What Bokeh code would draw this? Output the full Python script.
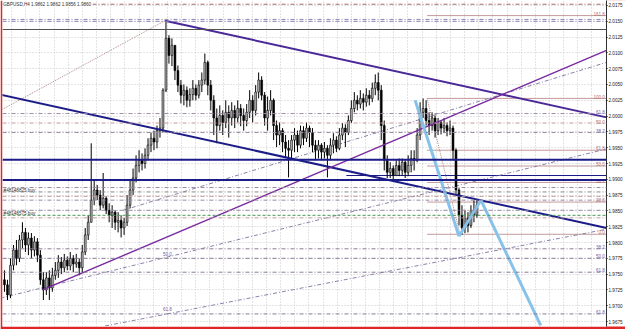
from bokeh.plotting import figure
from bokeh.models import Range1d, FixedTicker, Label, ColumnDataSource, Span, Grid, PrintfTickFormatter
from bokeh.core.properties import value
from bokeh.embed import file_html
from bokeh.resources import INLINE

FONT = "Liberation Sans"

header = "GBPUSD,H4  1.9862 1.9862 1.9856 1.9860"

# ---- H4 bars (one value per bar) ----
first_open = 1.9741
closes = [1.9733, 1.9717, 1.9764, 1.9788, 1.9775, 1.9804, 1.9816, 1.9796, 1.9807, 1.9788,
          1.9801, 1.9780, 1.9741, 1.9725, 1.9744, 1.9728, 1.9748, 1.9756, 1.9769, 1.9760,
          1.9772, 1.9763, 1.9775, 1.9766, 1.9769, 1.9760, 1.9785, 1.9812, 1.9832, 1.9867,
          1.9883, 1.9875, 1.9859, 1.9870, 1.9851, 1.9843, 1.9848, 1.9832, 1.9835, 1.9823,
          1.9832, 1.9859, 1.9883, 1.9902, 1.9922, 1.9930, 1.9925, 1.9938, 1.9954, 1.9965,
          1.9959, 1.9977, 1.9981, 2.0041, 2.0123, 2.0096, 2.0112, 2.0072, 2.0049, 2.0033,
          2.0041, 2.0025, 2.0034, 2.0044, 2.0033, 2.0049, 2.0057, 2.0085, 2.0049, 2.0025,
          1.9997, 1.9985, 2.0001, 1.9990, 2.0006, 1.9997, 2.0009, 1.9997, 2.0012, 2.0001,
          1.9993, 2.0006, 2.0025, 2.0009, 2.0038, 2.0057, 2.0033, 1.9997, 2.0009, 2.0025,
          1.9985, 1.9970, 1.9977, 1.9959, 1.9949, 1.9946, 1.9962, 1.9970, 1.9954, 1.9977,
          1.9965, 1.9981, 1.9974, 1.9954, 1.9946, 1.9954, 1.9943, 1.9949, 1.9938, 1.9954,
          1.9962, 1.9949, 1.9970, 1.9981, 1.9974, 1.9993, 2.0012, 2.0025, 2.0019, 2.0028,
          2.0022, 2.0033, 2.0028, 2.0044, 2.0053, 2.0041, 1.9985, 1.9930, 1.9911, 1.9917,
          1.9906, 1.9922, 1.9914, 1.9927, 1.9911, 1.9922, 1.9933, 1.9930, 1.9970, 2.0006,
          2.0012, 1.9993, 1.9985, 1.9997, 1.9977, 1.9990, 1.9981, 1.9985, 1.9977, 1.9981,
          1.9946, 1.9883, 1.9843, 1.9823, 1.9839, 1.9827, 1.9851, 1.9843, 1.9860]
highs = [1.9756, 1.9741, 1.9775, 1.9796, 1.9804, 1.9812, 1.9832, 1.9823, 1.9816, 1.9815,
         1.9810, 1.9807, 1.9788, 1.9753, 1.9753, 1.9756, 1.9760, 1.9769, 1.9780, 1.9777,
         1.9782, 1.9778, 1.9785, 1.9780, 1.9782, 1.9775, 1.9796, 1.9823, 1.9843, 1.9957,
         1.9899, 1.9891, 1.9883, 1.9910, 1.9873, 1.9862, 1.9859, 1.9851, 1.9848, 1.9843,
         1.9839, 1.9875, 1.9899, 1.9917, 1.9938, 1.9946, 1.9941, 1.9949, 1.9965, 1.9974,
         1.9977, 1.9985, 1.9997, 2.0044, 2.0150, 2.0128, 2.0123, 2.0107, 2.0080, 2.0057,
         2.0050, 2.0047, 2.0044, 2.0057, 2.0050, 2.0057, 2.0069, 2.0099, 2.0088, 2.0057,
         2.0033, 2.0012, 2.0017, 2.0009, 2.0025, 2.0017, 2.0022, 2.0017, 2.0025, 2.0019,
         2.0012, 2.0019, 2.0041, 2.0033, 2.0049, 2.0069, 2.0063, 2.0038, 2.0031, 2.0041,
         2.0028, 1.9993, 1.9990, 1.9981, 1.9970, 1.9962, 1.9970, 1.9981, 1.9977, 1.9985,
         1.9984, 1.9990, 1.9985, 1.9981, 1.9962, 1.9962, 1.9957, 1.9959, 1.9954, 1.9965,
         1.9973, 1.9968, 1.9981, 1.9989, 1.9987, 2.0001, 2.0025, 2.0038, 2.0033, 2.0041,
         2.0036, 2.0044, 2.0041, 2.0053, 2.0066, 2.0069, 2.0049, 1.9993, 1.9938, 1.9927,
         1.9922, 1.9930, 1.9933, 1.9933, 1.9930, 1.9938, 1.9946, 1.9946, 1.9981, 2.0022,
         2.0028, 2.0025, 2.0006, 2.0006, 2.0001, 1.9997, 1.9993, 1.9997, 1.9990, 1.9993,
         1.9985, 1.9949, 1.9886, 1.9859, 1.9851, 1.9848, 1.9859, 1.9867, 1.9867]
lows = [1.9722, 1.9709, 1.9712, 1.9756, 1.9764, 1.9769, 1.9791, 1.9785, 1.9780, 1.9775,
        1.9778, 1.9769, 1.9733, 1.9709, 1.9717, 1.9709, 1.9722, 1.9741, 1.9744, 1.9750,
        1.9753, 1.9756, 1.9756, 1.9753, 1.9760, 1.9748, 1.9753, 1.9780, 1.9804, 1.9832,
        1.9859, 1.9867, 1.9851, 1.9854, 1.9845, 1.9832, 1.9823, 1.9820, 1.9816, 1.9808,
        1.9812, 1.9826, 1.9854, 1.9875, 1.9895, 1.9911, 1.9914, 1.9917, 1.9930, 1.9943,
        1.9946, 1.9949, 1.9966, 1.9974, 2.0038, 2.0083, 2.0079, 2.0057, 2.0038, 2.0020,
        2.0017, 2.0014, 2.0015, 2.0025, 2.0025, 2.0028, 2.0038, 2.0050, 2.0033, 2.0009,
        1.9970, 1.9957, 1.9977, 1.9970, 1.9981, 1.9966, 1.9985, 1.9981, 1.9990, 1.9984,
        1.9977, 1.9984, 1.9997, 1.9990, 2.0001, 2.0028, 2.0025, 1.9985, 1.9977, 2.0001,
        1.9962, 1.9951, 1.9954, 1.9943, 1.9935, 1.9903, 1.9933, 1.9943, 1.9943, 1.9949,
        1.9954, 1.9959, 1.9951, 1.9943, 1.9930, 1.9933, 1.9930, 1.9933, 1.9903, 1.9930,
        1.9941, 1.9943, 1.9946, 1.9962, 1.9951, 1.9970, 1.9989, 2.0006, 2.0009, 2.0012,
        2.0009, 2.0015, 2.0017, 2.0022, 2.0033, 2.0025, 1.9962, 1.9914, 1.9902, 1.9902,
        1.9899, 1.9905, 1.9905, 1.9906, 1.9902, 1.9905, 1.9911, 1.9914, 1.9927, 1.9962,
        1.9997, 1.9985, 1.9970, 1.9977, 1.9966, 1.9970, 1.9971, 1.9973, 1.9968, 1.9970,
        1.9930, 1.9875, 1.9827, 1.9812, 1.9815, 1.9816, 1.9823, 1.9832, 1.9839]

price_ticks = [1.9675, 1.9700, 1.9725, 1.9750, 1.9775, 1.9800, 1.9825, 1.9850, 1.9875,
               1.9900, 1.9925, 1.9950, 1.9975, 2.0000, 2.0025, 2.0050, 2.0075, 2.0100,
               2.0125, 2.0150, 2.0175]

# ---- trend lines (bar index, price) ----
solid_x0 = [-1.33, 53.67, 12.67, 137.33, 152.0, 159.33]
solid_p0 = [2.0034, 2.0151, 1.9725, 2.0025, 1.9810, 1.9867]
solid_x1 = [201.33, 201.33, 201.33, 152.0, 159.33, 179.33]
solid_p1 = [1.9823, 1.9998, 2.0104, 1.9810, 1.9867, 1.9669]
solid_col = ["#1c1c88", "#4a2898", "#7a2aa0", "#86c2ea", "#86c2ea", "#86c2ea"]
solid_w = [2.0, 2.0, 1.4, 3.0, 3.0, 3.0]

dotted_x0 = [-1.33, 141.33]
dotted_p0 = [2.0009, 2.0028]
dotted_x1 = [53.67, 152.33]
dotted_p1 = [2.0151, 1.9813]

dashdot_x0 = [-1.33, 39.67, 33.67]
dashdot_p0 = [1.9712, 1.9851, 1.9668]
dashdot_x1 = [201.33, 201.33, 201.33]
dashdot_p1 = [1.9948, 2.0085, 1.9821]

# ---- horizontal levels ----
level_full = [2.0177, 2.0153, 2.0150, 2.0004, 1.9989, 1.9974, 1.9887, 1.9880, 1.9873,
              1.9867, 1.9851, 1.9839, 1.9790, 1.9775, 1.9753, 1.9687]
level_full_col = ["#a86a6a", "#8c82b4", "#8c82b4", "#9a8aa8", "#c49a9a", "#9a8aa8",
                  "#9a8aa8", "#8a8a8a", "#c49a9a", "#9a8aa8", "#9a8aa8", "#c49a9a",
                  "#8a7a9a", "#8a7a9a", "#8a7a9a", "#8a7a9a"]
fib_levels = [2.0159, 2.0028, 1.9946, 1.9921, 1.9895, 1.9864, 1.9813]
fib_start = 141.33
navy_full = [1.9931, 1.9899]
navy_part = [1.9906]
navy_part_start = 114.33
gray_line = 2.0137
order_line = 1.9843

# ---- labels ----
fib_text = ["161.8", "100.0", "61.8", "50.0", "38.2", "61.8", "50.0", "38.2", "23.6",
            "0.0", "38.2", "50.0", "61.8", "61.8"]
fib_text_p = [2.0162, 2.0031, 2.0006, 1.9990, 1.9976, 1.9949, 1.9925, 1.9897, 1.9867,
              1.9816, 1.9793, 1.9778, 1.9757, 1.9690]
fib_text_col = ["#b07070", "#b07070", "#7060a8", "#b07070", "#7060a8", "#b07070",
                "#b07070", "#b07070", "#b07070", "#b07070", "#7060a8", "#7060a8",
                "#7060a8", "#7060a8"]
mid_text = ["50.0", "61.8"]
mid_text_x = [53.0, 53.0]
mid_text_p = [1.9782, 1.9694]
order_text = ["#48148825 buy", "#48148575 buy"]
order_text_p = [1.9882, 1.9846]
axis_box_text = ["2.0137", "1.9932", "1.9906", "1.9899", "1.9860", "1.9843"]
axis_box_p = [2.0137, 1.9931, 1.9906, 1.9899, 1.9860, 1.9843]
axis_box_col = ["#000000", "#1c1c88", "#1c1c88", "#1c1c88", "#000000", "#2e8b57"]

bars = list(range(len(closes)))
opens = [first_open] + closes[:-1]
body_col = ["#b8b8b8" if c >= o else "#000000" for o, c in zip(opens, closes)]
src = ColumnDataSource(dict(x=bars, o=opens, c=closes, h=highs, l=lows, col=body_col))

p = figure(width=625, height=329, output_backend="svg", toolbar_location=None,
           x_range=Range1d(-0.667, 201.333), y_range=Range1d(1.96671, 2.01829),
           x_axis_location=None, y_axis_location="right",
           min_border_left=2, min_border_right=17, min_border_top=0, min_border_bottom=3,
           background_fill_color="white", border_fill_color="#e02626",
           outline_line_color=None)

ax = p.yaxis[0]
ax.ticker = FixedTicker(ticks=price_ticks)
ax.formatter = PrintfTickFormatter(format="%.4f")
ax.major_label_text_font = FONT
ax.major_label_text_font_size = "4.6px"
ax.major_label_text_color = "#202020"
ax.major_label_standoff = 1
ax.major_tick_in = 0
ax.major_tick_out = 1
ax.minor_tick_line_color = None
ax.axis_line_color = "#303030"
if "background_fill_color" in ax.properties():
    ax.background_fill_color = "white"

p.ygrid.ticker = FixedTicker(ticks=price_ticks)
p.ygrid.grid_line_color = "#c8c8c8"
p.ygrid.grid_line_dash = "1 2"
p.xgrid.visible = False
vgrid = [(210 + 14.2 * k - 4) / 3 for k in range(-15, 29)]
p.add_layout(Grid(dimension=0, ticker=FixedTicker(ticks=vgrid),
                  grid_line_color="#c8c8c8", grid_line_dash="1 2"))

# horizontal levels
for lv, col in zip(level_full, level_full_col):
    p.add_layout(Span(location=lv, dimension="width", line_color=col,
                      line_width=1, line_dash="4 2 1 2"))
p.add_layout(Span(location=gray_line, dimension="width", line_color="#505050", line_width=1))
p.add_layout(Span(location=order_line, dimension="width", line_color="#4a9a5a",
                  line_width=1, line_dash="3 2"))
for lv in navy_full:
    p.add_layout(Span(location=lv, dimension="width", line_color="#1c1c88", line_width=2))
p.segment(x0=[navy_part_start] * len(navy_part), y0=navy_part,
          x1=[201.33] * len(navy_part), y1=navy_part, line_color="#1c1c88", line_width=1)
p.segment(x0=[fib_start] * len(fib_levels), y0=fib_levels,
          x1=[201.33] * len(fib_levels), y1=fib_levels, line_color="#c49a9a", line_width=1)

# diagonal helper lines
p.segment(x0=dotted_x0, y0=dotted_p0, x1=dotted_x1, y1=dotted_p1,
          line_color="#b08888", line_width=1, line_dash="1 1")
p.segment(x0=dashdot_x0, y0=dashdot_p0, x1=dashdot_x1, y1=dashdot_p1,
          line_color="#8a80a8", line_width=1, line_dash="4 2 1 2")

# candles
p.segment(x0="x", y0="h", x1="x", y1="l", source=src, line_color="#000000", line_width=1)
p.vbar(x="x", top="o", bottom="c", width=0.62, source=src, fill_color="col",
       line_color="#000000", line_width=0.6)

# trend lines
p.segment(x0=solid_x0, y0=solid_p0, x1=solid_x1, y1=solid_p1,
          line_color=solid_col, line_width=solid_w)

# texts
p.text(x=[200.8] * len(fib_text), y=fib_text_p, text=fib_text, text_color=fib_text_col,
       text_font=value(FONT), text_font_size=value("4.6px"), text_align="right",
       text_baseline="middle")
p.text(x=mid_text_x, y=mid_text_p, text=mid_text, text_color="#7060a8",
       text_font=value(FONT), text_font_size=value("4.6px"), text_align="left",
       text_baseline="middle")
p.text(x=[-0.3] * len(order_text), y=order_text_p, text=order_text, text_color="#303030",
       text_font=value(FONT), text_font_size=value("4.6px"), text_align="left",
       text_baseline="middle")

p.add_layout(Label(x=-0.4, y=2.0176, text=header, text_font=FONT, text_font_size="4.6px",
                   text_color="#303030", text_baseline="middle",
                   background_fill_color="white"))
for t, pv, col in zip(axis_box_text, axis_box_p, axis_box_col):
    p.add_layout(Label(x=201.7, y=pv, text=t, text_font=FONT, text_font_size="4.6px",
                       text_color="white", text_baseline="middle",
                       background_fill_color=col))

open("out.html", "w").write(file_html(p, INLINE))
